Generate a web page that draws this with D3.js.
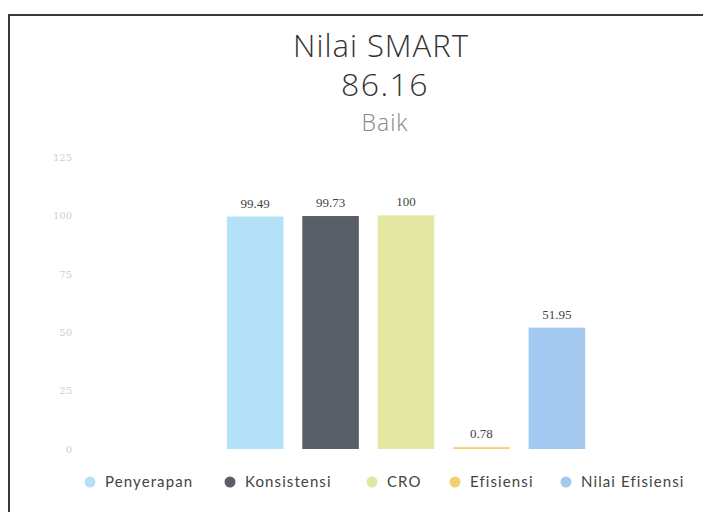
<!DOCTYPE html>
<html><head><meta charset="utf-8">
<script src="https://cdn.jsdelivr.net/npm/d3@7"></script>
<style>html,body{margin:0;padding:0;background:#fff;}svg{display:block;}</style>
</head><body>
<svg id="c" width="703" height="512"></svg>
<script>
const categories = ["Penyerapan", "Konsistensi", "CRO", "Efisiensi", "Nilai Efisiensi"];
const values = [99.49, 99.73, 100, 0.78, 51.95];
const colors = ["#b5e1f8", "#5a5e67", "#e3e7a3", "#f5d06e", "#a3c9f1"];
const yTicks = [0, 25, 50, 75, 100, 125];
const titleLines = ["Nilai SMART", "86.16"];
const subtitle = "Baik";

const svg = d3.select("#c");
svg.append("rect").attr("x", 9).attr("y", 15).attr("width", 720).attr("height", 520)
  .attr("fill", "#fff").attr("stroke", "#3a3a3a").attr("stroke-width", 2);

const sans = "Lato, 'Open Sans', sans-serif";
const thin = "'Open Sans', Lato, sans-serif";
svg.append("text").attr("x", 381).attr("y", 57).attr("text-anchor", "middle")
  .attr("font-family", thin).attr("font-weight", 300).attr("font-size", 31).attr("letter-spacing", 1)
  .attr("fill", "#333").text(titleLines[0]);
svg.append("text").attr("x", 385).attr("y", 96).attr("text-anchor", "middle")
  .attr("font-family", thin).attr("font-weight", 300).attr("font-size", 32).attr("letter-spacing", 1.5)
  .attr("fill", "#333").text(titleLines[1]);
svg.append("text").attr("x", 385).attr("y", 131).attr("text-anchor", "middle")
  .attr("font-family", thin).attr("font-weight", 300).attr("font-size", 23).attr("letter-spacing", 1)
  .attr("fill", "#888").text(subtitle);

const y = d3.scaleLinear().domain([0, 125]).range([449, 157]);
const x = d3.scaleBand().domain(categories).range([208, 604]).paddingInner(0.25).paddingOuter(0.25);

const yAxis = d3.axisLeft(y).tickValues(yTicks).tickSize(0).tickPadding(0);
const ga = svg.append("g").attr("transform", "translate(72,0)").call(yAxis);
ga.select(".domain").remove();
ga.selectAll("text").attr("font-family", "'DejaVu Serif', serif").attr("font-size", 10).attr("fill", "#cfcfcf");

svg.selectAll("rect.bar").data(values).join("rect").attr("class", "bar")
  .attr("x", (d, i) => x(categories[i])).attr("width", x.bandwidth())
  .attr("y", d => y(d)).attr("height", d => y(0) - y(d))
  .attr("fill", (d, i) => colors[i]);

svg.selectAll("text.lbl").data(values).join("text").attr("class", "lbl")
  .attr("x", (d, i) => x(categories[i]) + x.bandwidth() / 2)
  .attr("y", d => y(d) - 9).attr("text-anchor", "middle")
  .attr("font-family", "'Liberation Serif', serif").attr("font-size", 13).attr("fill", "#444")
  .text(d => d);

const legendX = [90, 230, 372, 455, 566];
const lg = svg.selectAll("g.lg").data(categories).join("g").attr("class", "lg")
  .attr("transform", (d, i) => `translate(${legendX[i]},482)`);
lg.append("circle").attr("r", 5.5).attr("fill", (d, i) => colors[i]);
lg.append("text").attr("x", 15).attr("y", 5).attr("font-family", sans).attr("font-size", 15)
  .attr("letter-spacing", 1.1).attr("fill", "#444").text(d => d);
</script>
</body></html>
